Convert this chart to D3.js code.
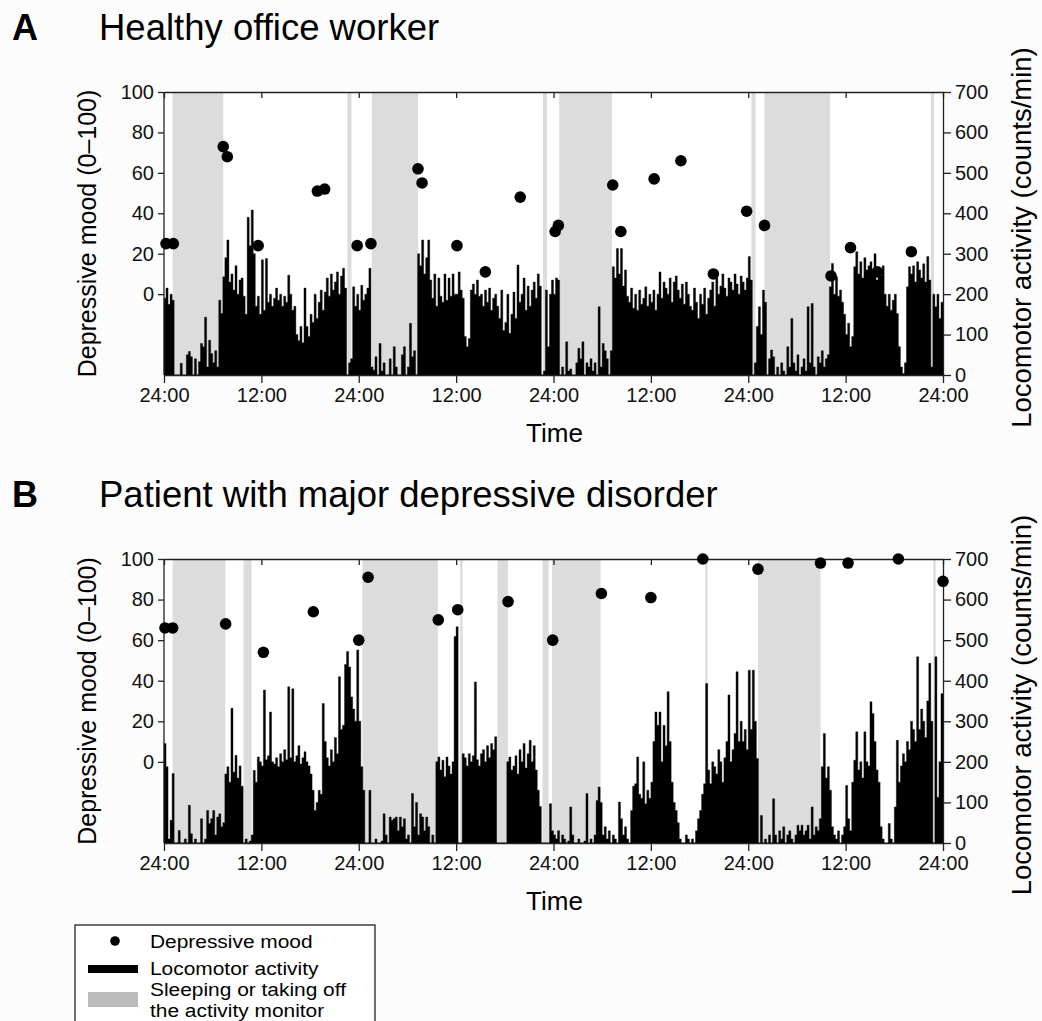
<!DOCTYPE html>
<html>
<head>
<meta charset="utf-8">
<script src="https://cdn.jsdelivr.net/npm/d3@7/dist/d3.min.js"></script>
<style>
  body { margin: 0; background: #fcfcfc; }
  svg { display: block; font-family: "Liberation Sans", Arial, sans-serif; }
  .axis path, .axis line { stroke: #222; stroke-width: 1.3; }
  .axis text { font-size: 20px; fill: #111; }
</style>
</head>
<body>
<div id="chart"></div>
<script>
// Time axis: hours from the first midnight, ticks every 12 h
const timeTicks = [0, 12, 24, 36, 48, 60, 72, 84, 96];
const timeLabels = ["24:00", "12:00", "24:00", "12:00", "24:00", "12:00", "24:00", "12:00", "24:00"];
const moodTicks = [0, 20, 40, 60, 80, 100];
const activityTicks = [0, 100, 200, 300, 400, 500, 600, 700];

// Sleeping / monitor taken off, [start h, end h]
const sleepA = [[1.07, 7.3], [22.6, 23.1], [25.6, 31.3], [46.7, 47.2], [48.7, 55.2], [72.4, 72.9], [74.0, 82.1], [94.5, 94.9]];
const sleepB = [[1.07, 7.56], [9.8, 10.8], [24.45, 33.75], [36.5, 36.8], [41.1, 42.4], [46.65, 47.4], [47.8, 53.8], [66.7, 67.0], [73.2, 80.9], [94.8, 95.1]];

// Depressive mood ratings: time (h) and score
const moodTimeA = [0.25, 1.15, 7.3, 7.8, 11.6, 18.9, 19.8, 23.8, 25.5, 31.3, 31.8, 36.1, 39.6, 43.9, 48.2, 48.6, 55.3, 56.3, 60.4, 63.7, 67.7, 71.8, 74.0, 82.2, 84.6, 87.9, 92.1];
const moodA = [25, 25, 73, 68, 24, 51, 52, 24, 25, 62, 55, 24, 11, 48, 31, 34, 54, 31, 57, 66, 10, 41, 34, 9, 23, 11, 21];
const moodTimeB = [0.12, 1.07, 7.6, 12.25, 18.4, 24.0, 25.15, 33.8, 36.2, 42.4, 47.9, 53.9, 60.0, 66.4, 73.2, 80.9, 84.3, 90.5, 96.0];
const moodB = [66, 66, 68, 54, 74, 60, 91, 70, 75, 79, 60, 83, 81, 100, 95, 98, 98, 100, 89];

// Locomotor activity (counts/min), one value per 15 min, 4 per hour
const activityA = [
  190, 215, 175, 200,  185, 0, 0, 0,  29, 0, 0, 50,  58, 45, 0, 40,
  0, 33, 78, 70,  143, 20, 86, 53,  30, 60, 20, 185,  152, 243, 290, 334,
  230, 250, 210, 270,  200, 235, 240, 195,  150, 390, 320, 408,  300, 170, 195, 150,
  285, 160, 288, 180,  200, 170, 190, 215,  185, 200, 170, 195,  180, 247, 200, 160,
  170, 100, 85, 120,  80, 215, 120, 95,  150, 130, 200, 140,  180, 210, 160, 205,
  240, 195, 250, 210,  230, 255, 200, 245,  264, 215, 0, 30,  40, 218, 170, 200,
  160, 222, 185, 200,  215, 264, 20, 12,  45, 0, 78, 10,  30, 0, 0, 40,
  0, 70, 20, 0,  0, 50, 70, 0,  20, 128, 45, 60,  0, 300, 270, 334,
  250, 290, 334, 235,  190, 250, 170, 240,  195, 180, 250, 185,  240, 195, 250, 200,
  200, 255, 210, 190,  95, 70, 90, 210,  225, 200, 235, 195,  200, 170, 210, 180,
  215, 160, 190, 200,  170, 140, 210, 110,  130, 200, 103, 150,  205, 140, 272, 180,
  200, 240, 160, 220,  170, 210, 230, 190,  250, 220, 0, 10,  210, 70, 200, 235,
  200, 240, 235, 0,  20, 0, 82, 10,  15, 0, 0, 30,  66, 40, 82, 0,
  30, 20, 40, 10,  30, 0, 169, 20,  78, 60, 40, 0,  60, 268, 240, 313,
  250, 313, 220, 260,  195, 180, 215, 165,  200, 160, 210, 175,  190, 218, 170, 200,
  180, 210, 160, 200,  255, 190, 230, 215,  200, 240, 180, 230,  245, 210, 190, 225,
  175, 230, 200, 170,  160, 215, 180, 140,  200, 175, 215, 150,  190, 210, 230, 170,
  240, 200, 220, 250,  215, 195, 240, 230,  210, 250, 225, 200,  245, 230, 210, 240,
  293, 235, 0, 30,  120, 169, 100, 210,  180, 0, 40, 62,  45, 0, 20, 0,
  30, 10, 0, 70,  20, 140, 30, 10,  50, 0, 20, 40,  10, 169, 30, 177,
  20, 0, 45, 30,  60, 20, 40, 50,  218, 276, 200, 243,  195, 210, 180, 150,
  100, 128, 70, 95,  268, 305, 250, 280,  240, 290, 260, 270,  280, 250, 300, 235,
  260, 245, 270, 200,  170, 200, 160, 185,  200, 152, 70, 20,  4, 30, 218, 268,
  250, 270, 230, 280,  260, 240, 275, 230,  293, 235, 20, 200,  169, 200, 140, 180
];
const activityB = [
  245, 188, 10, 56,  171, 0, 0, 31,  0, 0, 10, 0,  93, 23, 0, 10,
  0, 0, 60, 0,  10, 80, 48, 60,  80, 20, 64, 72,  40, 50, 170, 188,
  150, 332, 175, 216,  160, 190, 140, 0,  10, 0, 5, 20,  179, 150, 212, 200,
  190, 377, 205, 215,  323, 200, 195, 210,  188, 220, 200, 230,  205, 385, 210, 380,
  200, 215, 240, 195,  210, 225, 200, 190,  170, 130, 80, 100,  130, 120, 344, 250,
  210, 190, 230, 200,  260, 220, 410, 280,  290, 440, 472, 434,  360, 330, 300, 476,
  300, 188, 130, 0,  0, 130, 0, 0,  10, 0, 0, 5,  72, 20, 0, 64,
  56, 60, 64, 30,  64, 40, 60, 10,  20, 0, 122, 40,  100, 20, 72, 64,
  30, 64, 40, 0,  20, 0, 200, 212,  180, 204, 163, 212,  190, 170, 200, 509,
  533, 0, 0, 220,  210, 190, 220, 200,  215, 397, 205, 190,  220, 230, 200, 240,
  210, 245, 230, 262,  0, 0, 0, 0,  0, 200, 212, 180,  190, 215, 170, 230,
  200, 245, 185, 220,  253, 200, 240, 180,  130, 90, 0, 0,  0, 0, 97, 30,
  20, 10, 30, 0,  20, 10, 0, 5,  89, 20, 0, 0,  10, 0, 0, 5,
  122, 0, 10, 0,  20, 105, 138, 100,  20, 40, 10, 30,  0, 20, 10, 0,
  101, 60, 20, 40,  10, 0, 80, 140,  146, 212, 120, 110,  200, 97, 130, 110,
  150, 250, 323, 290,  323, 200, 290, 240,  373, 250, 150, 100,  80, 50, 10, 0,
  0, 20, 10, 0,  10, 0, 30, 60,  80, 120, 146, 393,  180, 146, 200, 188,
  170, 230, 200, 150,  210, 250, 365, 200,  230, 270, 422, 250,  300, 250, 280, 230,
  426, 280, 426, 300,  208, 0, 68, 0,  10, 0, 20, 0,  109, 20, 0, 30,
  10, 40, 0, 20,  30, 10, 0, 20,  44, 30, 44, 20,  30, 44, 10, 89,
  20, 40, 30, 60,  188, 270, 160, 188,  130, 40, 20, 10,  30, 0, 20, 40,
  142, 60, 30, 150,  204, 274, 180, 200,  160, 274, 200, 190,  348, 319, 250, 180,
  150, 40, 10, 0,  0, 48, 10, 0,  89, 253, 150, 190,  220, 200, 250, 230,
  300, 280, 250, 459,  280, 330, 300, 260,  350, 443, 300, 0,  459, 113, 200, 368
];
const binHours = 0.25;

const width = 1042, height = 1021;
const svg = d3.select('#chart').append('svg')
    .attr('width', width)
    .attr('height', height);

const xScale = d3.scaleLinear().domain([0, 96]).range([164, 943]);

function drawPanel(cfg) {
    let top = cfg.top, bottom = cfg.bottom;
    let yAct = d3.scaleLinear().domain([0, 700]).range([bottom, top]);
    // mood 0..100 sits on the activity range 200..700
    let yMood = d3.scaleLinear().domain([0, 100]).range([yAct(200), top]);

    let g = svg.append('g');

    // plot background
    g.append('rect')
        .attr('x', xScale(0)).attr('y', top)
        .attr('width', xScale(96) - xScale(0)).attr('height', bottom - top)
        .attr('fill', '#ffffff');

    // grey sleep bands
    g.selectAll('rect.sleep')
        .data(cfg.sleep)
        .enter().append('rect')
        .attr('class', 'sleep')
        .attr('x', d => xScale(d[0]))
        .attr('y', top)
        .attr('width', d => xScale(d[1]) - xScale(d[0]))
        .attr('height', bottom - top)
        .attr('fill', '#dcdcdc');

    // activity as a stepped area (one step per 15-min bin), no seams between bins
    let steps = cfg.activity.concat([cfg.activity[cfg.activity.length - 1]]);
    let area = d3.area()
        .x((d, i) => xScale(i * binHours))
        .y0(bottom)
        .y1(d => yAct(d))
        .curve(d3.curveStepAfter);
    g.append('path')
        .attr('d', area(steps))
        .attr('fill', '#000')
        .attr('stroke', '#000')
        .attr('stroke-width', 0.4);

    // axes
    g.append('g')
        .attr('class', 'axis')
        .attr('transform', 'translate(0,' + bottom + ')')
        .call(d3.axisBottom(xScale).tickValues(timeTicks)
            .tickFormat((d, i) => timeLabels[i]).tickSize(8).tickPadding(5).tickSizeOuter(0));

    g.append('g')
        .attr('class', 'axis')
        .attr('transform', 'translate(0,' + top + ')')
        .call(d3.axisTop(xScale).tickValues(timeTicks).tickFormat('').tickSize(-6).tickSizeOuter(0));

    g.append('g')
        .attr('class', 'axis')
        .attr('transform', 'translate(' + xScale(0) + ',0)')
        .call(d3.axisLeft(yMood).tickValues(moodTicks).tickSize(6).tickPadding(4).tickSizeOuter(0))
        .call(a => a.select('.domain').attr('d', 'M0,' + top + 'V' + bottom));

    g.append('g')
        .attr('class', 'axis')
        .attr('transform', 'translate(' + xScale(96) + ',0)')
        .call(d3.axisRight(yAct).tickValues(activityTicks).tickSize(8).tickPadding(4).tickSizeOuter(0));

    // mood dots
    g.selectAll('circle.mood')
        .data(cfg.moodTime)
        .enter().append('circle')
        .attr('class', 'mood')
        .attr('cx', d => xScale(d))
        .attr('cy', (d, i) => yMood(cfg.mood[i]))
        .attr('r', 5.8)
        .attr('fill', '#000');

    // panel letter and title
    svg.append('text')
        .attr('x', 12).attr('y', top - 52)
        .style('font-size', '36px').style('font-weight', 'bold')
        .text(cfg.letter);
    svg.append('text')
        .attr('x', 99).attr('y', top - 52)
        .style('font-size', '36.5px')
        .text(cfg.title);

    // axis titles
    svg.append('text')
        .attr('transform', 'translate(' + 96 + ',' + ((top + bottom) / 2) + ') rotate(-90)')
        .attr('text-anchor', 'middle')
        .style('font-size', '25px')
        .text('Depressive mood (0\u2013100)');
    svg.append('text')
        .attr('transform', 'translate(' + 1031 + ',' + ((top + bottom) / 2 + 4) + ') rotate(-90)')
        .attr('text-anchor', 'middle')
        .style('font-size', '27.5px')
        .text('Locomotor activity (counts/min)');
    svg.append('text')
        .attr('x', (xScale(0) + xScale(96)) / 2 + 1)
        .attr('y', bottom + 67)
        .attr('text-anchor', 'middle')
        .style('font-size', '26px')
        .text('Time');
}

drawPanel({ top: 92, bottom: 375, letter: 'A', title: 'Healthy office worker',
    sleep: sleepA, activity: activityA, moodTime: moodTimeA, mood: moodA });
drawPanel({ top: 559, bottom: 843, letter: 'B', title: 'Patient with major depressive disorder',
    sleep: sleepB, activity: activityB, moodTime: moodTimeB, mood: moodB });

// Legend
let legend = svg.append('g');
legend.append('rect')
    .attr('x', 75).attr('y', 925).attr('width', 300).attr('height', 110)
    .attr('fill', '#fff').attr('stroke', '#222').attr('stroke-width', 1.3);
legend.append('circle').attr('cx', 115).attr('cy', 941).attr('r', 4.8).attr('fill', '#000');
legend.append('rect').attr('x', 88).attr('y', 965).attr('width', 50).attr('height', 8).attr('fill', '#000');
legend.append('rect').attr('x', 88).attr('y', 992).attr('width', 50).attr('height', 15).attr('fill', '#bbbbbb');
let legendText = [['Depressive mood', 948], ['Locomotor activity', 975], ['Sleeping or taking off', 996], ['the activity monitor', 1017]];
legend.selectAll('text')
    .data(legendText)
    .enter().append('text')
    .attr('transform', d => 'translate(150,' + d[1] + ') scale(1.1,1)')
    .style('font-size', '19px')
    .text(d => d[0]);
</script>
</body>
</html>
